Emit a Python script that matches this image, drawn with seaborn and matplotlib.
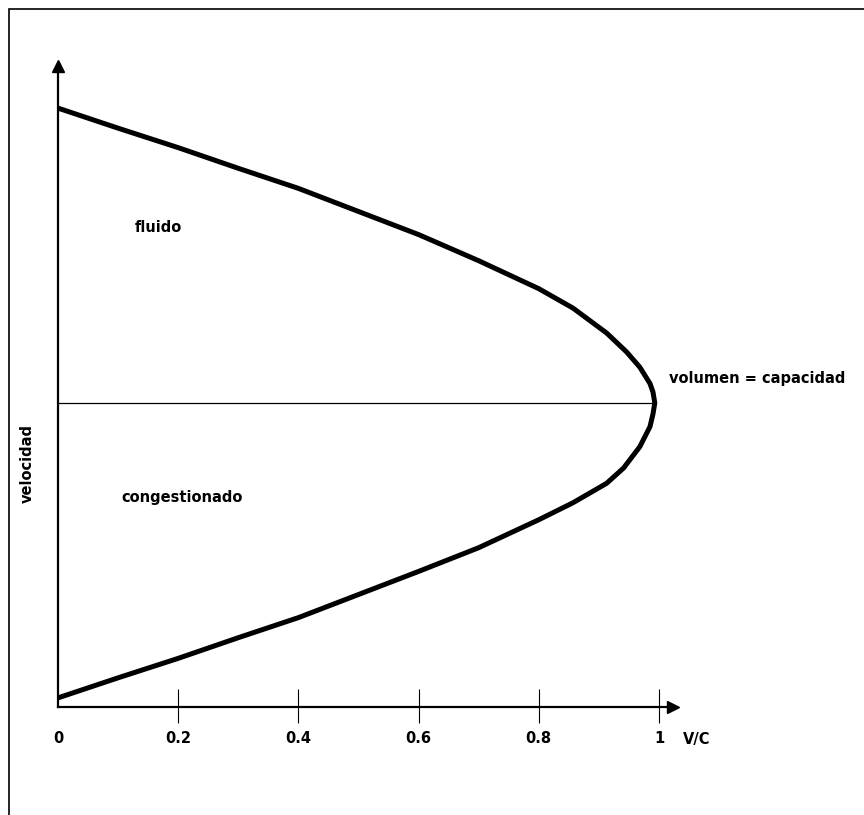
import numpy as np
import pandas as pd
import matplotlib.pyplot as plt
from matplotlib.patches import Rectangle
import seaborn as sns

# values (speed in arbitrary units, capacity speed = 50)
vc_upper = [0, 0.1, 0.2, 0.3, 0.4, 0.5, 0.6, 0.7, 0.8, 0.857, 0.913, 0.946, 0.968, 0.985, 0.990, 0.993]
speed_upper = [98.5, 95.2, 92.0, 88.6, 85.3, 81.5, 77.7, 73.4, 68.8, 65.6, 61.5, 58.4, 55.9, 53.2, 51.8, 50.0]
vc_lower = [0.990, 0.985, 0.968, 0.941, 0.913, 0.857, 0.8, 0.7, 0.6, 0.5, 0.4, 0.3, 0.2, 0.1, 0]
speed_lower = [48.2, 46.1, 42.8, 39.3, 36.8, 33.6, 30.8, 26.2, 22.3, 18.5, 14.7, 11.4, 8.0, 4.8, 1.5]
speed_capacity = 50
vc_capacity = 0.993
xticks = [0, 0.2, 0.4, 0.6, 0.8, 1]
xtick_labels = ['0', '0.2', '0.4', '0.6', '0.8', '1']

df = pd.DataFrame({'vc': vc_upper + vc_lower, 'speed': speed_upper + speed_lower})

sns.set_style('white')
plt.rcParams['font.family'] = ['DejaVu Sans']
plt.rcParams['font.weight'] = 'bold'
plt.rcParams['text.color'] = 'black'
fs = 10.5

fig = plt.figure(figsize=(8.64, 8.15), dpi=100)
ax = fig.add_axes([58 / 864, 108 / 815, 601 * 1.04 / 864, 107 * 6.08 / 815])

sns.lineplot(data=df, x='vc', y='speed', sort=False, estimator=None,
             color='black', linewidth=3.6, ax=ax)
ax.hlines(speed_capacity, 0, vc_capacity, color='black', linewidth=0.9)

ax.set_xlim(0, 1.04)
ax.set_ylim(0, 107)
for s in ['top', 'right']:
    ax.spines[s].set_visible(False)
ax.spines['bottom'].set_bounds(0, 1.025)
ax.spines['left'].set_bounds(0, 105.5)
for s in ['bottom', 'left']:
    ax.spines[s].set_linewidth(1.6)
    ax.spines[s].set_color('black')

# arrow heads
ax.plot(1.024, 0, marker='>', color='black', markersize=9, clip_on=False)
ax.plot(0, 105.4, marker='^', color='black', markersize=9, clip_on=False)

# tick marks crossing the x axis
ax.vlines(xticks[1:], -2.7, 2.9, color='black', linewidth=0.8, clip_on=False)

ax.set_xticks(xticks)
ax.set_xticklabels(xtick_labels, fontsize=fs, fontweight='bold', color='black')
ax.tick_params(axis='x', bottom=False, length=0, pad=17.5)
ax.set_yticks([])
ax.set_xlabel('')
ax.set_ylabel('')

ax.text(1.063, -5.3, 'V/C', fontsize=fs, fontweight='bold', ha='center', va='center', clip_on=False)
ax.text(0.128, 78.8, 'fluido', fontsize=fs, fontweight='bold', ha='left', va='center')
ax.text(0.106, 34.5, 'congestionado', fontsize=fs, fontweight='bold', ha='left', va='center')
ax.text(1.017, 54.1, 'volumen = capacidad', fontsize=fs, fontweight='bold', ha='left', va='center',
        clip_on=False)
fig.text(27 / 864, 1 - 463 / 815, 'velocidad', fontsize=fs, fontweight='bold', rotation=90,
         ha='center', va='center')

# frame around the figure, running off the right and bottom edges
fig.patches.append(Rectangle((9 / 864, -0.1), 1.2, 1 - 9 / 815 + 0.1, transform=fig.transFigure,
                             fill=False, edgecolor='black', linewidth=1.2))

fig.savefig('out.png', dpi=100)
